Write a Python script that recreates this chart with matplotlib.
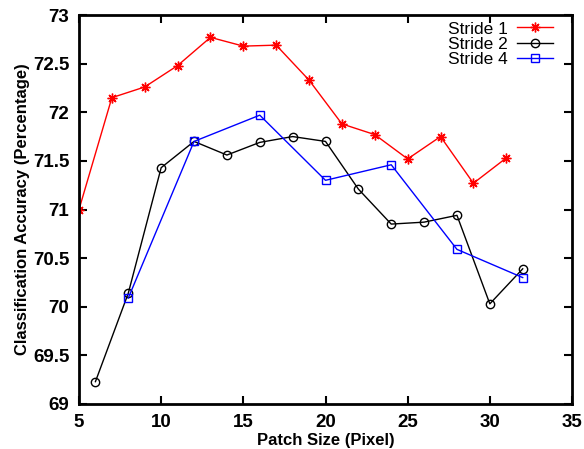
import matplotlib.pyplot as plt

plt.rcParams['font.family'] = ['Liberation Sans', 'DejaVu Sans']

# stride 1 (odd patch sizes)
x1 = [5, 7, 9, 11, 13, 15, 17, 19, 21, 23, 25, 27, 29, 31]
y1 = [71.0, 72.15, 72.26, 72.48, 72.77, 72.68, 72.69, 72.33, 71.88, 71.77, 71.52, 71.75, 71.27, 71.53]

# stride 2
x2 = [6, 8, 10, 12, 14, 16, 18, 20, 22, 24, 26, 28, 30, 32]
y2 = [69.23, 70.14, 71.43, 71.70, 71.56, 71.69, 71.75, 71.70, 71.21, 70.85, 70.87, 70.94, 70.03, 70.39]

# stride 4
x4 = [8, 12, 16, 20, 24, 28, 32]
y4 = [70.09, 71.70, 71.97, 71.30, 71.46, 70.59, 70.30]

fig = plt.figure(figsize=(5.84, 4.49), dpi=100)
ax = fig.add_axes([79/584, 45/449, 493/584, 389/449])

ax.plot(x1, y1, color='red', lw=1, marker=(8, 2, 0), ms=7, label='Stride 1')
ax.plot(x2, y2, color='black', lw=1, marker='o', ms=6, mfc='none', label='Stride 2')
ax.plot(x4, y4, color='blue', lw=1, marker='s', ms=6, mfc='none', label='Stride 4')

ax.set_xlim(5, 35)
ax.set_ylim(69, 73)
ax.set_xticks(range(5, 36, 5))
ax.set_yticks([69, 69.5, 70, 70.5, 71, 71.5, 72, 72.5, 73])
ax.set_yticklabels(['69', '69.5', '70', '70.5', '71', '71.5', '72', '72.5', '73'])
ax.tick_params(direction='in', top=True, right=True, length=6, width=1.5, labelsize=13.5, pad=7)
for lbl in ax.get_xticklabels() + ax.get_yticklabels():
    lbl.set_fontweight('bold')
for s in ax.spines.values():
    s.set_linewidth(2)

ax.set_xlabel('Patch Size (Pixel)', fontsize=12, fontweight='bold', labelpad=2)
ax.set_ylabel('Classification Accuracy (Percentage)', fontsize=12, fontweight='bold', labelpad=2)

ax.legend(loc='upper right', bbox_to_anchor=(0.965, 0.988), frameon=False, markerfirst=False,
          fontsize=12.5, handlelength=2.1, labelspacing=0.0, borderaxespad=0, borderpad=0.1,
          handletextpad=0.5)

fig.savefig('out.png', dpi=100)
